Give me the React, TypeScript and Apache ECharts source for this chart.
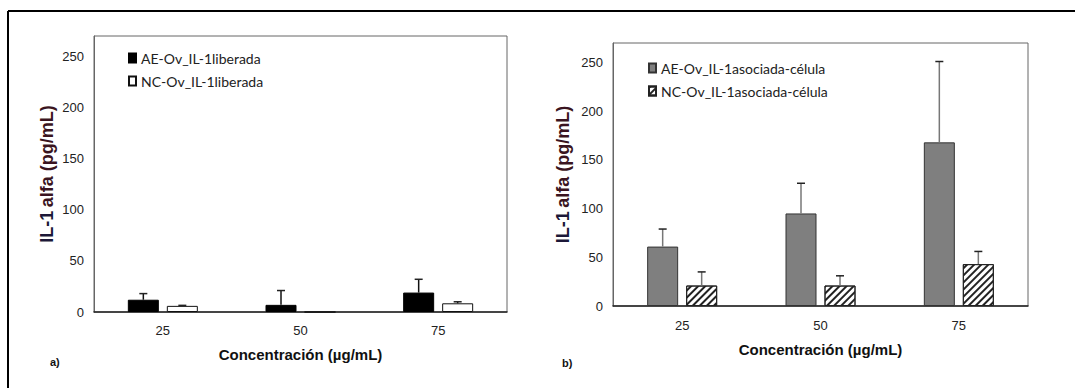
import React, { useEffect, useRef } from "react";
import * as echarts from "echarts";

const categories = ["25", "50", "75"];
const aeLiberada = [12, 7, 19];
const aeLiberadaErr = [6, 14, 13];
const ncLiberada = [6, 0, 8.5];
const ncLiberadaErr = [0.5, 0, 1.5];
const aeCelula = [61, 95, 168];
const aeCelulaErr = [18, 31, 83];
const ncCelula = [21, 21, 43];
const ncCelulaErr = [14, 10, 13];

const yTicksMax = 270;
const BAR_W = 31;
const BAR_GAP = 8;

const SANS = "'Liberation Sans', Arial, sans-serif";

function errSeries(name: string, vals: number[], errs: number[], sign: number, axis: number, color: string) {
  return {
    type: "custom",
    name: name + "_err",
    xAxisIndex: axis,
    yAxisIndex: axis,
    z: 10,
    silent: true,
    data: vals.map((v, i) => [i, v, errs[i]]),
    renderItem: (params: any, api: any) => {
      const idx = api.value(0);
      const v = api.value(1);
      const e = api.value(2);
      if (!(e > 0)) return { type: "group", children: [] };
      const base = api.coord([idx, v]);
      const top = api.coord([idx, v + e]);
      const x = base[0] + sign * (BAR_W + BAR_GAP) / 2;
      return {
        type: "group",
        children: [
          { type: "line", shape: { x1: x, y1: base[1], x2: x, y2: top[1] }, style: { stroke: color, lineWidth: 1.5 } },
          { type: "line", shape: { x1: x - 4, y1: top[1], x2: x + 4, y2: top[1] }, style: { stroke: "#222", lineWidth: 1.5 } },
        ],
      };
    },
  };
}

export default function App() {
  const ref = useRef<HTMLDivElement>(null);
  useEffect(() => {
    if (!ref.current) return;
    const chart = echarts.init(ref.current, undefined, { renderer: "svg" });
    const yAxisBase = (gap: number) => ({
      type: "value",
      min: 0,
      max: yTicksMax,
      interval: 50,
      name: "{a|IL-1} {b|alfa (pg/mL)}",
      nameLocation: "middle",
      nameGap: gap,
      nameRotate: 90,
      nameTextStyle: {
        rich: {
          a: { fontFamily: SANS, fontWeight: "bold", fontSize: 18, color: "#1c1838" },
          b: { fontFamily: SANS, fontWeight: "bold", fontSize: 18, color: "#3a1420" },
        },
      },
      axisLine: { show: true, lineStyle: { color: "#666", width: 1 } },
      axisTick: { show: false },
      splitLine: { show: false },
      axisLabel: { showMaxLabel: false, fontFamily: SANS, fontSize: 13, color: "#222", margin: 10 },
    });
    const xAxisBase = (gap: number, margin: number) => ({
      type: "category",
      data: categories,
      name: "Concentración (µg/mL)",
      nameLocation: "middle",
      nameGap: gap,
      nameTextStyle: { fontFamily: SANS, fontWeight: "bold", fontSize: 15, color: "#111" },
      axisLine: { lineStyle: { color: "#222", width: 1.5 } },
      axisTick: { show: false },
      axisLabel: { fontFamily: SANS, fontSize: 13, color: "#222", margin },
    });
    const legendText = { fontFamily: "Lato, 'Liberation Sans', sans-serif", fontSize: 14, color: "#222", lineHeight: 16 };
    chart.setOption({
      animation: false,
      backgroundColor: "#fff",
      grid: [
        { left: 94, top: 36, width: 413, height: 276, show: true, borderColor: "#666", borderWidth: 1, backgroundColor: "transparent" },
        { left: 613, top: 43, width: 415, height: 263, show: true, borderColor: "#666", borderWidth: 1, backgroundColor: "transparent" },
      ],
      xAxis: [
        { ...xAxisBase(35, 12), gridIndex: 0 },
        { ...xAxisBase(36, 13), gridIndex: 1 },
      ],
      yAxis: [
        { ...yAxisBase(38), gridIndex: 0 },
        { ...yAxisBase(41), gridIndex: 1 },
      ],
      legend: [
        {
          left: 128, top: 50, orient: "vertical", padding: 0, itemGap: 7, itemWidth: 7, itemHeight: 9, icon: "rect",
          data: ["AE-Ov_IL-1liberada", "NC-Ov_IL-1liberada"], textStyle: legendText,
        },
        {
          left: 648, top: 60, orient: "vertical", padding: 0, itemGap: 7, itemWidth: 7, itemHeight: 9, icon: "rect",
          data: ["AE-Ov_IL-1asociada-célula", "NC-Ov_IL-1asociada-célula"], textStyle: legendText,
        },
      ],
      graphic: [
        { type: "line", shape: { x1: 8, y1: 11, x2: 1075, y2: 11 }, style: { stroke: "#000", lineWidth: 2 } },
        { type: "line", shape: { x1: 8, y1: 11, x2: 8, y2: 388 }, style: { stroke: "#000", lineWidth: 2 } },
        { type: "text", left: 50, top: 356, style: { text: "a)", font: `bold 11px ${SANS}`, fill: "#111" } },
        { type: "text", left: 562, top: 357, style: { text: "b)", font: `bold 11px ${SANS}`, fill: "#111" } },
      ],
      series: [
        {
          type: "bar", name: "AE-Ov_IL-1liberada", xAxisIndex: 0, yAxisIndex: 0, data: aeLiberada,
          barWidth: BAR_W, barGap: `${(BAR_GAP / BAR_W) * 100}%`,
          itemStyle: { color: "#000", borderColor: "#000", borderWidth: 1 },
        },
        {
          type: "bar", name: "NC-Ov_IL-1liberada", xAxisIndex: 0, yAxisIndex: 0, data: ncLiberada,
          barWidth: BAR_W, barGap: `${(BAR_GAP / BAR_W) * 100}%`,
          itemStyle: { color: "#fff", borderColor: "#111", borderWidth: 1 },
        },
        {
          type: "bar", name: "AE-Ov_IL-1asociada-célula", xAxisIndex: 1, yAxisIndex: 1, data: aeCelula,
          barWidth: BAR_W, barGap: `${(BAR_GAP / BAR_W) * 100}%`,
          itemStyle: { color: "#7f7f7f", borderColor: "#333", borderWidth: 1 },
        },
        {
          type: "bar", name: "NC-Ov_IL-1asociada-célula", xAxisIndex: 1, yAxisIndex: 1, data: ncCelula,
          barWidth: BAR_W, barGap: `${(BAR_GAP / BAR_W) * 100}%`,
          itemStyle: {
            color: "#fff", borderColor: "#222", borderWidth: 1,
            decal: {
              symbol: "rect", symbolSize: 1, symbolKeepAspect: false, color: "#222", backgroundColor: "#fff",
              dashArrayX: [1, 0], dashArrayY: [1.2, 2.8], rotation: -Math.PI / 4,
            },
          },
        },
        errSeries("ae_lib", aeLiberada, aeLiberadaErr, -1, 0, "#111"),
        errSeries("nc_lib", ncLiberada, ncLiberadaErr, 1, 0, "#111"),
        errSeries("ae_cel", aeCelula, aeCelulaErr, -1, 1, "#777"),
        errSeries("nc_cel", ncCelula, ncCelulaErr, 1, 1, "#777"),
      ],
    });
    return () => chart.dispose();
  }, []);
  return <div ref={ref} style={{ position: "fixed", left: 0, top: 0, width: 1075, height: 388 }} />;
}
